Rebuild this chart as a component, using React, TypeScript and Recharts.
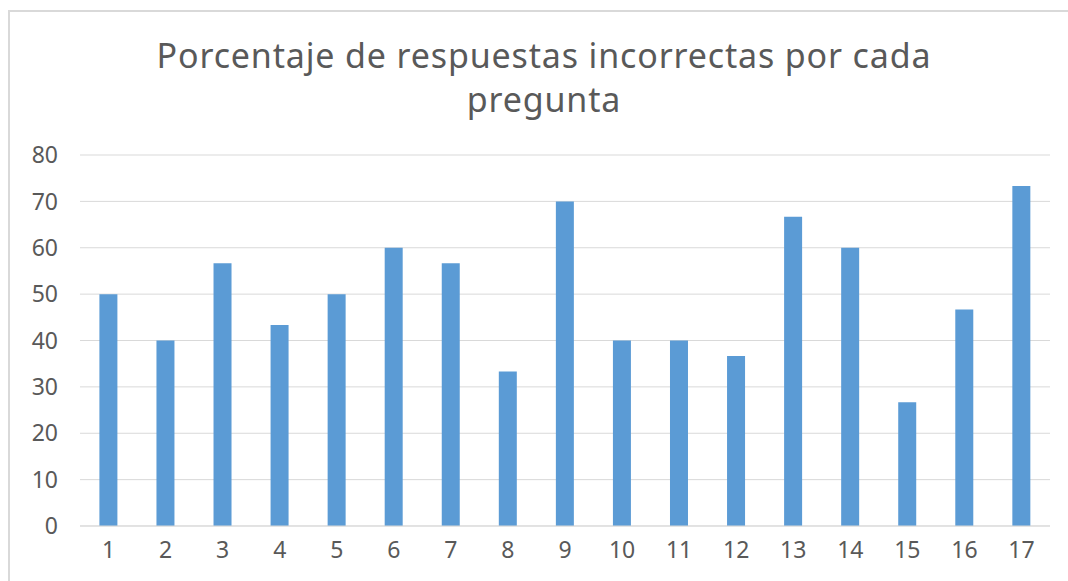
import { BarChart, Bar, XAxis, YAxis, CartesianGrid } from 'recharts'

const preguntas = ['1', '2', '3', '4', '5', '6', '7', '8', '9', '10', '11', '12', '13', '14', '15', '16', '17']
const porcentajes = [50, 40, 56.67, 43.33, 50, 60, 56.67, 33.33, 70, 40, 40, 36.67, 66.67, 60, 26.67, 46.67, 73.33]
const yTicks = [0, 10, 20, 30, 40, 50, 60, 70, 80]
const tituloLineas = ['Porcentaje de respuestas incorrectas por cada', 'pregunta']

const data = preguntas.map((p, i) => ({ pregunta: p, valor: porcentajes[i] }))

const font = '"Noto Sans", "Open Sans", sans-serif'

export default function App() {
  return (
    <div style={{ position: 'absolute', left: 0, top: 0, width: 1068, height: 581, background: '#fff', fontFamily: font }}>
      <div
        style={{
          position: 'absolute',
          left: 8,
          top: 10,
          width: 1070,
          height: 580,
          borderLeft: '2px solid #d9d9d9',
          borderTop: '2px solid #d9d9d9',
        }}
      />
      <div
        style={{
          position: 'absolute',
          left: 0,
          width: 1088,
          top: 33,
          textAlign: 'center',
          color: '#595959',
          fontSize: 34,
          letterSpacing: 0.85,
          lineHeight: '44px',
        }}
      >
        {tituloLineas.map((l) => (
          <div key={l}>{l}</div>
        ))}
      </div>
      <div style={{ position: 'absolute', left: 0, top: 0 }}>
        <BarChart width={1068} height={581} data={data} margin={{ top: 155, right: 18, left: 0, bottom: 0 }} barCategoryGap="34%">
          <CartesianGrid vertical={false} stroke="#d9d9d9" />
          <XAxis
            dataKey="pregunta"
            tickLine={false}
            axisLine={{ stroke: '#d9d9d9' }}
            tick={{ fontSize: 23, fill: '#595959', fontFamily: font }}
            tickMargin={10}
            height={55}
          />
          <YAxis
            width={80}
            domain={[0, 80]}
            ticks={yTicks}
            tickLine={false}
            axisLine={false}
            tick={{ fontSize: 23, fill: '#595959', fontFamily: font }}
            tickMargin={16}
          />
          <Bar dataKey="valor" fill="#5b9bd5" isAnimationActive={false} />
        </BarChart>
      </div>
    </div>
  )
}
